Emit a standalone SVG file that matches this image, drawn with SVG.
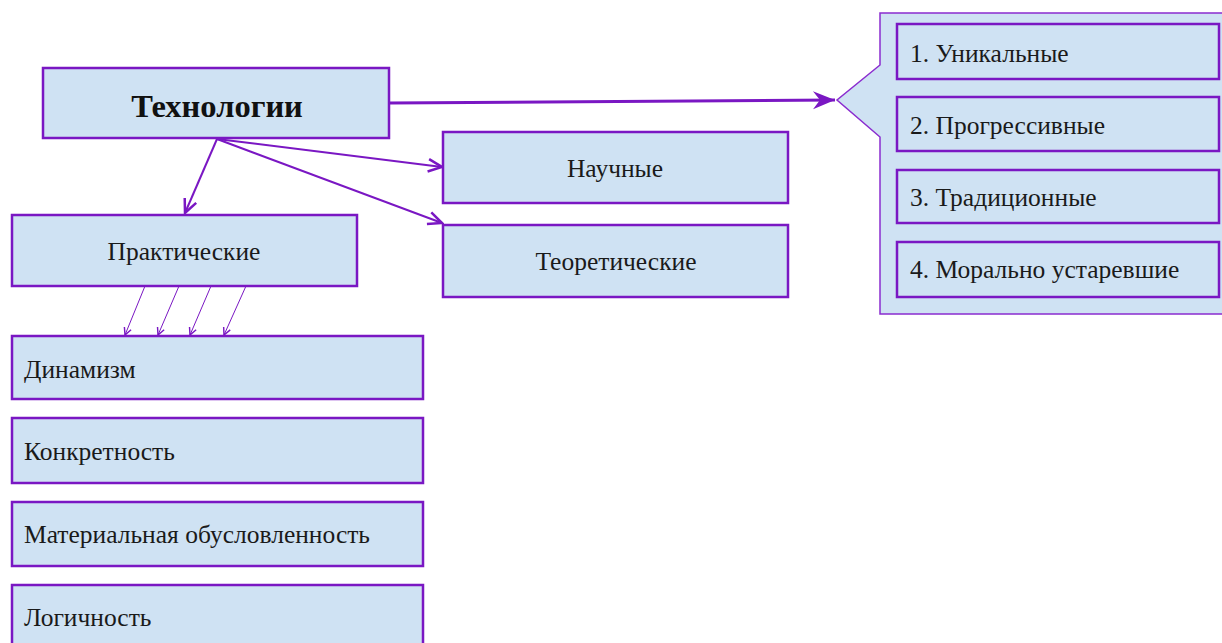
<svg xmlns="http://www.w3.org/2000/svg" width="1222" height="643" viewBox="0 0 1222 643">
<style>
.box{fill:#cfe2f3;stroke:#7a17c3;stroke-width:2.5}
.inner{fill:#cfe2f3;stroke:#7a17c3;stroke-width:2.5}
.callout{fill:#cfe2f3;stroke:#8a2ccf;stroke-width:1.5}
.t{font-family:"Liberation Serif","Times New Roman",serif;font-size:25.5px;fill:#1a1a1a}
.title{font-family:"Liberation Serif","Times New Roman",serif;font-size:32.5px;font-weight:bold;fill:#111}
.c{stroke:#7a17c3;fill:none}
</style>
<defs>
<marker id="big" markerUnits="userSpaceOnUse" markerWidth="30" markerHeight="24" viewBox="-24 -12 26 24" refX="0" refY="0" orient="auto">
<path d="M0,0 L-22,-9 L-15,0 L-22,9 Z" fill="#7a17c3"/>
</marker>
<marker id="mid" markerUnits="userSpaceOnUse" markerWidth="20" markerHeight="20" viewBox="-14 -8 16 16" refX="0" refY="0" orient="auto">
<path d="M-11,-5 L0,0 L-11,5" fill="none" stroke="#7a17c3" stroke-width="2"/>
</marker>
<marker id="sm" markerUnits="userSpaceOnUse" markerWidth="12" markerHeight="12" viewBox="-8 -5 10 10" refX="0" refY="0" orient="auto">
<path d="M-6,-3 L0,0 L-6,3" fill="none" stroke="#7a17c3" stroke-width="1.2"/>
</marker>
</defs>
<g id="connectors">
<line class="c" x1="390" y1="103" x2="835" y2="100" stroke-width="3" marker-end="url(#big)"/>
<line class="c" x1="217" y1="139" x2="185" y2="213" stroke-width="2" marker-end="url(#mid)"/>
<line class="c" x1="217" y1="139" x2="442" y2="167" stroke-width="2" marker-end="url(#mid)"/>
<line class="c" x1="217" y1="139" x2="442" y2="223" stroke-width="2" marker-end="url(#mid)"/>
<line class="c" x1="145" y1="286" x2="125" y2="335" stroke-width="1" marker-end="url(#sm)"/>
<line class="c" x1="179" y1="286" x2="158" y2="335" stroke-width="1" marker-end="url(#sm)"/>
<line class="c" x1="211" y1="286" x2="190" y2="335" stroke-width="1" marker-end="url(#sm)"/>
<line class="c" x1="246" y1="286" x2="224" y2="335" stroke-width="1" marker-end="url(#sm)"/>
</g>
<g id="tech">
<rect class="box" x="43" y="68" width="346" height="70"/>
<text class="title" x="217" y="117" text-anchor="middle">Технологии</text>
</g>
<g id="types">
<path class="callout" d="M880,13 H1232 V314 H880 V137 L837,100 L880,65 Z"/>
<g id="t1"><rect class="inner" x="897" y="24" width="322" height="55"/><text class="t" x="910" y="62">1. Уникальные</text></g>
<g id="t2"><rect class="inner" x="897" y="97" width="322" height="54"/><text class="t" x="910" y="134">2. Прогрессивные</text></g>
<g id="t3"><rect class="inner" x="897" y="170" width="322" height="53"/><text class="t" x="910" y="206">3. Традиционные</text></g>
<g id="t4"><rect class="inner" x="897" y="242" width="322" height="55"/><text class="t" x="910" y="278">4. Морально устаревшие</text></g>
</g>
<g id="sci"><rect class="box" x="443" y="132" width="345" height="71"/><text class="t" x="615" y="177" text-anchor="middle">Научные</text></g>
<g id="theor"><rect class="box" x="443" y="225" width="345" height="72"/><text class="t" x="616" y="270" text-anchor="middle">Теоретические</text></g>
<g id="pract"><rect class="box" x="12" y="215" width="345" height="71"/><text class="t" x="184" y="260" text-anchor="middle">Практические</text></g>
<g id="p1"><rect class="box" x="12" y="336" width="411" height="63"/><text class="t" x="24" y="378">Динамизм</text></g>
<g id="p2"><rect class="box" x="12" y="418" width="411" height="65"/><text class="t" x="24" y="460">Конкретность</text></g>
<g id="p3"><rect class="box" x="12" y="502" width="411" height="64"/><text class="t" x="24" y="543">Материальная обусловленность</text></g>
<g id="p4"><rect class="box" x="12" y="585" width="411" height="70"/><text class="t" x="24" y="626">Логичность</text></g>
</svg>
